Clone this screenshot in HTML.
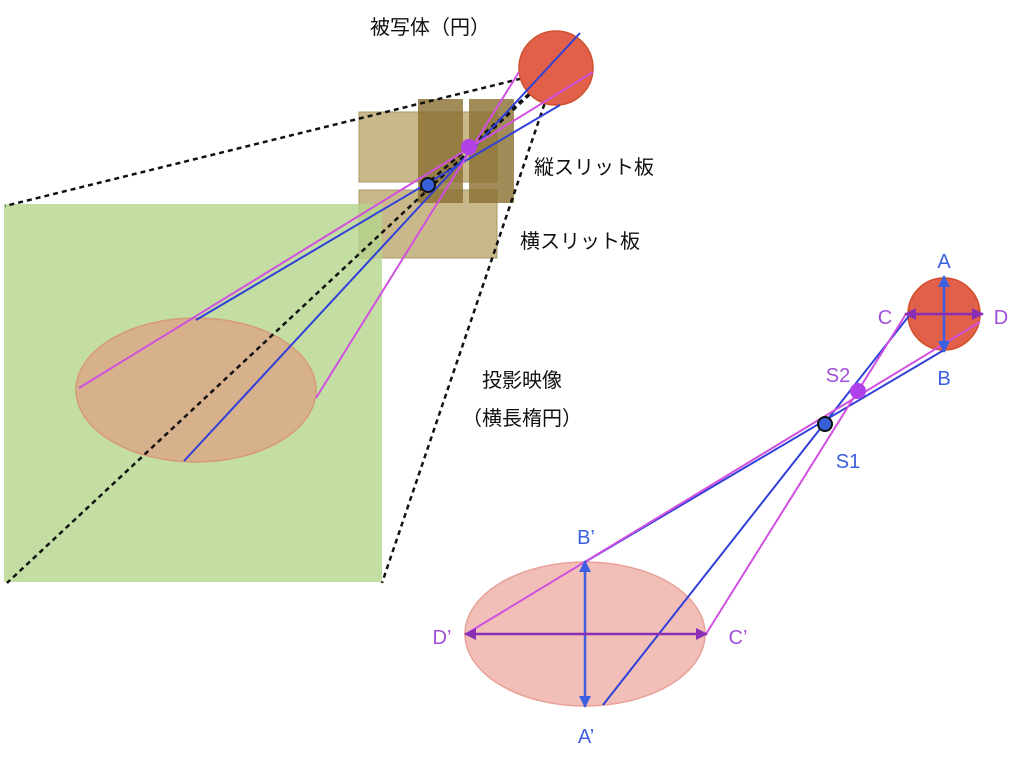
<!DOCTYPE html>
<html><head><meta charset="utf-8"><style>
body{margin:0;background:#fff}
svg text{font-family:"Liberation Sans","Noto Sans CJK JP",sans-serif}
</style></head><body>
<svg width="1024" height="762" xmlns="http://www.w3.org/2000/svg">
<defs>
<marker id="ab" markerWidth="12" markerHeight="12" refX="11" refY="6" orient="auto" markerUnits="userSpaceOnUse"><path d="M0,0 L12,6 L0,12 z" fill="#3b5fe0"/></marker>
<marker id="ap" markerWidth="12" markerHeight="12" refX="11" refY="6" orient="auto" markerUnits="userSpaceOnUse"><path d="M0,0 L12,6 L0,12 z" fill="#8a2fb5"/></marker>
</defs>
<!-- left diagram -->
<rect x="359" y="112" width="138" height="70" fill="#c9b98a" stroke="#a89868" stroke-width="1"/>
<rect x="359" y="190" width="138" height="68" fill="#c9b98a" stroke="#a89868" stroke-width="1"/>
<rect x="4" y="204" width="378" height="378" fill="#b5d48c" opacity="0.8"/>
<rect x="418" y="99" width="45" height="104" fill="#8a6f30" opacity="0.8"/>
<rect x="469" y="99" width="45" height="104" fill="#8a6f30" opacity="0.8"/>
<ellipse cx="196" cy="390" rx="120" ry="72" fill="#dba888" fill-opacity="0.85" stroke="#d69a78" stroke-width="1.5"/>
<g stroke="#111" stroke-width="2.5" stroke-dasharray="5,4" fill="none">
<line x1="556" y1="70" x2="5" y2="206"/>
<line x1="556" y1="70" x2="382" y2="583"/>
<line x1="556" y1="70" x2="7" y2="583"/>
<line x1="556" y1="70" x2="420" y2="190"/>
</g>
<circle cx="556" cy="68" r="37" fill="#e0604a" stroke="#d0502c" stroke-width="1.5"/>
<g stroke="#3040d8" stroke-width="2" fill="none">
<line x1="580" y1="33" x2="184" y2="461"/>
<line x1="560" y1="105" x2="196" y2="320"/>
</g>
<g stroke="#d050e0" stroke-width="2" fill="none">
<line x1="519" y1="72" x2="316" y2="398"/>
<line x1="593" y1="72" x2="79" y2="388"/>
</g>
<circle cx="469" cy="147" r="8" fill="#b040e8"/>
<circle cx="428" cy="185" r="7" fill="#3860d8" stroke="#111" stroke-width="2"/>
<g font-size="20" fill="#111">
<text x="370" y="34">被写体（円）</text>
<text x="534" y="174">縦スリット板</text>
<text x="520" y="248">横スリット板</text>
<text x="482" y="387">投影映像</text>
<text x="462" y="425">（横長楕円）</text>
</g>
<!-- right diagram -->
<ellipse cx="585" cy="634" rx="120" ry="72" fill="#f0b8b0" fill-opacity="0.9" stroke="#e8a098" stroke-width="1.5"/>
<circle cx="944" cy="314" r="36" fill="#e0604a" stroke="#d0502c" stroke-width="1.5"/>
<g stroke="#3040d8" stroke-width="2" fill="none">
<line x1="912" y1="312" x2="603" y2="705"/>
<line x1="944" y1="350" x2="585" y2="562"/>
</g>
<g stroke="#d050e0" stroke-width="2" fill="none">
<line x1="980" y1="322" x2="466" y2="634"/>
<line x1="906" y1="314" x2="706" y2="634"/>
</g>
<line x1="944" y1="314" x2="944" y2="276" stroke="#3b5fe0" stroke-width="2.5" marker-end="url(#ab)"/>
<line x1="944" y1="314" x2="944" y2="352" stroke="#3b5fe0" stroke-width="2.5" marker-end="url(#ab)"/>
<line x1="944" y1="314" x2="905" y2="314" stroke="#8a2fb5" stroke-width="2.5" marker-end="url(#ap)"/>
<line x1="944" y1="314" x2="983" y2="314" stroke="#8a2fb5" stroke-width="2.5" marker-end="url(#ap)"/>
<line x1="585" y1="634" x2="585" y2="561" stroke="#3b5fe0" stroke-width="2.5" marker-end="url(#ab)"/>
<line x1="585" y1="634" x2="585" y2="707" stroke="#3b5fe0" stroke-width="2.5" marker-end="url(#ab)"/>
<line x1="585" y1="634" x2="465" y2="634" stroke="#8a2fb5" stroke-width="2.5" marker-end="url(#ap)"/>
<line x1="585" y1="634" x2="707" y2="634" stroke="#8a2fb5" stroke-width="2.5" marker-end="url(#ap)"/>
<circle cx="858" cy="391" r="8" fill="#b040e8"/>
<circle cx="825" cy="424" r="7" fill="#3860d8" stroke="#111" stroke-width="2"/>
<g font-size="20" text-anchor="middle">
<text x="944" y="268" fill="#3b5fe0">A</text>
<text x="944" y="385" fill="#3b5fe0">B</text>
<text x="885" y="324" fill="#a050d8">C</text>
<text x="1001" y="324" fill="#a050d8">D</text>
<text x="838" y="382" fill="#a050d8">S2</text>
<text x="848" y="468" fill="#3b5fe0">S1</text>
<text x="586" y="544" fill="#3b5fe0">B’</text>
<text x="586" y="743" fill="#3b5fe0">A’</text>
<text x="442" y="644" fill="#a050d8">D’</text>
<text x="738" y="644" fill="#a050d8">C’</text>
</g>
</svg>
</body></html>
